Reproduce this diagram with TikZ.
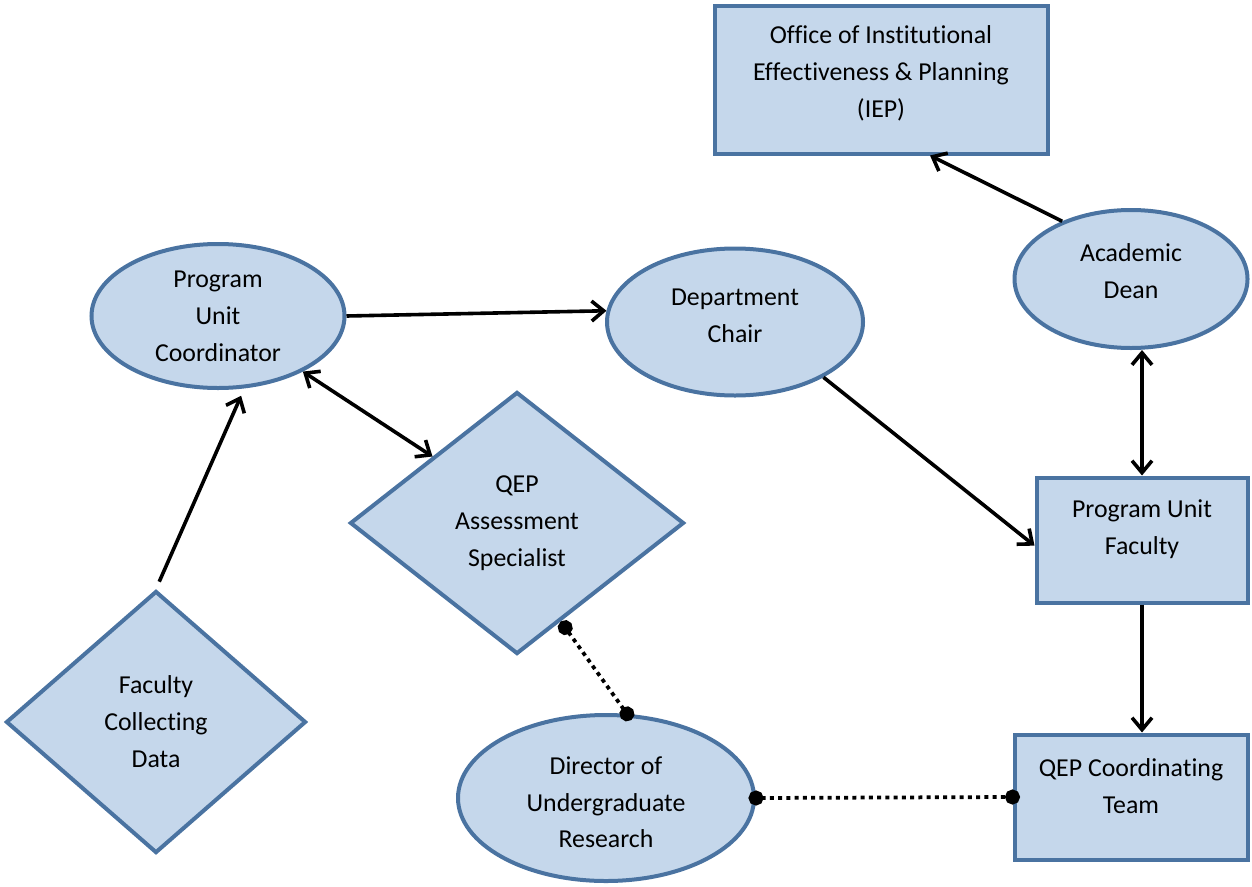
\documentclass[tikz,border=0pt]{standalone}
\usepackage{fontspec}
\setmainfont{Carlito}[Ligatures=CommonOff]
\usetikzlibrary{positioning,shapes.geometric,arrows.meta}
\definecolor{boxfill}{HTML}{C5D7EB}
\definecolor{boxline}{HTML}{4A73A1}

\begin{document}
\begin{tikzpicture}[on grid, thick, >={Straight Barb[length=0.24cm,width=0.4cm]},
		every node/.style = {font=\fontsize{14.7}{21}\selectfont, align=center},
		main/.style = {draw=boxline, fill=boxfill, line width=0.08cm, inner sep=0pt},
		oval/.style = {main, ellipse},
		card/.style = {main, rectangle},
		rhomb/.style = {main, diamond},
		link/.style = {line width=0.072cm},
		dots/.style = {line width=0.075cm, dash pattern=on 0.08cm off 0.085cm, {Circle[length=0.3cm]}-{Circle[length=0.3cm]}}]
		\useasboundingbox (-4.36,6.32) rectangle (20.68,-11.40);
		\node[oval, minimum width=5.06cm, minimum height=2.88cm] (puc) {Program\\Unit\\Coordinator};
		\node[oval, minimum width=5.12cm, minimum height=2.94cm, text depth=0.24cm] (dc) [below right=0.12cm and 10.34cm of puc] {Department\\Chair};
		\node[rhomb, minimum width=6.68cm, minimum height=5.24cm] (qas) [below right=4.14cm and 5.98cm of puc] {QEP\\Assessment\\Specialist};
		\node[rhomb, minimum width=6.0cm, minimum height=5.24cm] (fcd) [below left=8.12cm and 1.24cm of puc] {Faculty\\Collecting\\Data};
		\node[oval, minimum width=5.92cm, minimum height=3.32cm, text height=2.0cm] (dur) [below right=5.5cm and 1.78cm of qas] {Director of\\Undergraduate\\Research};
		\node[oval, minimum width=4.66cm, minimum height=2.76cm, text depth=0.32cm] (ad) [above right=0.86cm and 7.92cm of dc] {Academic\\Dean};
		\node[card, minimum width=6.66cm, minimum height=2.94cm, text depth=0.33cm] (iep) [above left=3.98cm and 5.0cm of ad] {Office of Institutional\\Effectiveness \& Planning\\(IEP)};
		\node[card, minimum width=4.22cm, minimum height=2.5cm, text depth=0.5cm] (puf) [below right=5.22cm and 0.22cm of ad] {Program Unit\\Faculty};
		\node[card, minimum width=4.66cm, minimum height=2.5cm, text depth=0.44cm] (qct) [below left=5.14cm and 0.22cm of puf] {QEP Coordinating\\Team};
		\path[->, link] (fcd.north) edge [shorten <=0.16cm, shorten >=0.16cm] (puc.-70)
			(puc.east) edge (dc.175)
			(dc.-32) edge (puf.183)
			(ad.140) edge (iep.-57)
			(puf.south) edge (puf.south |- qct.north);
		\path[<->, link] (puc) edge (qas.north west)
			(puf.north) edge (puf.north |- ad.south);
		\path[dots] (qas.-66) edge [shorten >=-0.15cm] (dur.76)
			(dur.east) edge [shorten <=-0.15cm, shorten >=-0.15cm] (qct.west);
	\end{tikzpicture}
\end{document}
